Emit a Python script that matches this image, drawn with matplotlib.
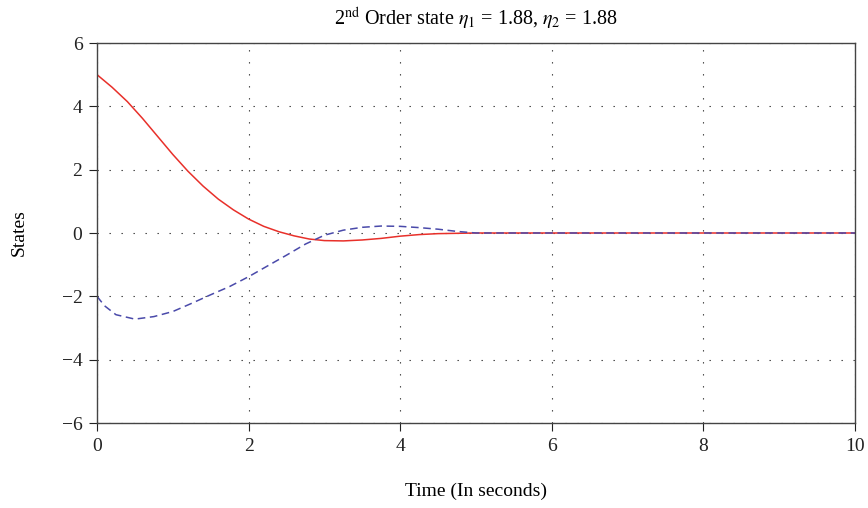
import matplotlib
matplotlib.use("Agg")
import matplotlib.pyplot as plt

plt.rcParams['font.family'] = ['Liberation Serif', 'DejaVu Serif']
plt.rcParams['mathtext.fontset'] = 'stix'

# Data
t_red = [0, 0.2, 0.4, 0.6, 0.8, 1.0, 1.2, 1.4, 1.6, 1.8, 2.0, 2.2, 2.4, 2.6,
         2.8, 3.0, 3.25, 3.5, 3.75, 4.0, 4.25, 4.5, 4.75, 5.0, 10.0]
x1 = [5.0, 4.6, 4.15, 3.62, 3.05, 2.48, 1.95, 1.48, 1.07, 0.73, 0.44, 0.21,
      0.04, -0.09, -0.19, -0.24, -0.25, -0.22, -0.17, -0.10, -0.05, -0.02,
      -0.01, 0.0, 0.0]

t_blue = [0, 0.1, 0.25, 0.5, 0.75, 1.0, 1.25, 1.5, 1.75, 2.0, 2.25, 2.5, 2.75,
          3.0, 3.25, 3.5, 3.75, 4.0, 4.25, 4.5, 4.75, 5.0, 10.0]
x2 = [-2.0, -2.3, -2.58, -2.72, -2.64, -2.48, -2.22, -1.95, -1.69, -1.38,
      -1.04, -0.70, -0.35, -0.07, 0.09, 0.18, 0.22, 0.21, 0.17, 0.12, 0.05,
      0.0, 0.0]

xticks = [0, 2, 4, 6, 8, 10]
yticks = [-6, -4, -2, 0, 2, 4, 6]
ytick_labels = ['\u22126', '\u22124', '\u22122', '0', '2', '4', '6']

fig = plt.figure(figsize=(8.68, 5.08), dpi=100)
ax = fig.add_axes([97/868, 1 - 423/508, (855 - 97)/868, (423 - 43)/508])

ax.plot(t_red, x1, color='#e8302a', lw=1.1)
ax.plot(t_blue, x2, color='#4a4aaa', lw=1.1, ls=(0, (5, 3)))

ax.set_xlim(0, 10)
ax.set_ylim(-6, 6)
ax.set_xticks(xticks)
ax.set_yticks(yticks)
ax.set_yticklabels(ytick_labels)
ax.grid(True, ls=(0, (1.2, 9.6)), color='#333333', lw=0.8)
ax.tick_params(direction='out', length=5.5, width=0.8, labelsize=14,
               colors='#222222', top=False, right=False, pad=5)
for s in ax.spines.values():
    s.set_color('#444444')
    s.set_linewidth(1.0)

ax.set_xlabel('Time (In seconds)', fontsize=14, labelpad=20)
ax.set_ylabel('States', fontsize=14, labelpad=24)
ax.set_title(r'2$^{\mathrm{nd}}$ Order state $\eta_1$ = 1.88, $\eta_2$ = 1.88',
             fontsize=14.5, pad=13)

fig.savefig('out.png', dpi=100)
